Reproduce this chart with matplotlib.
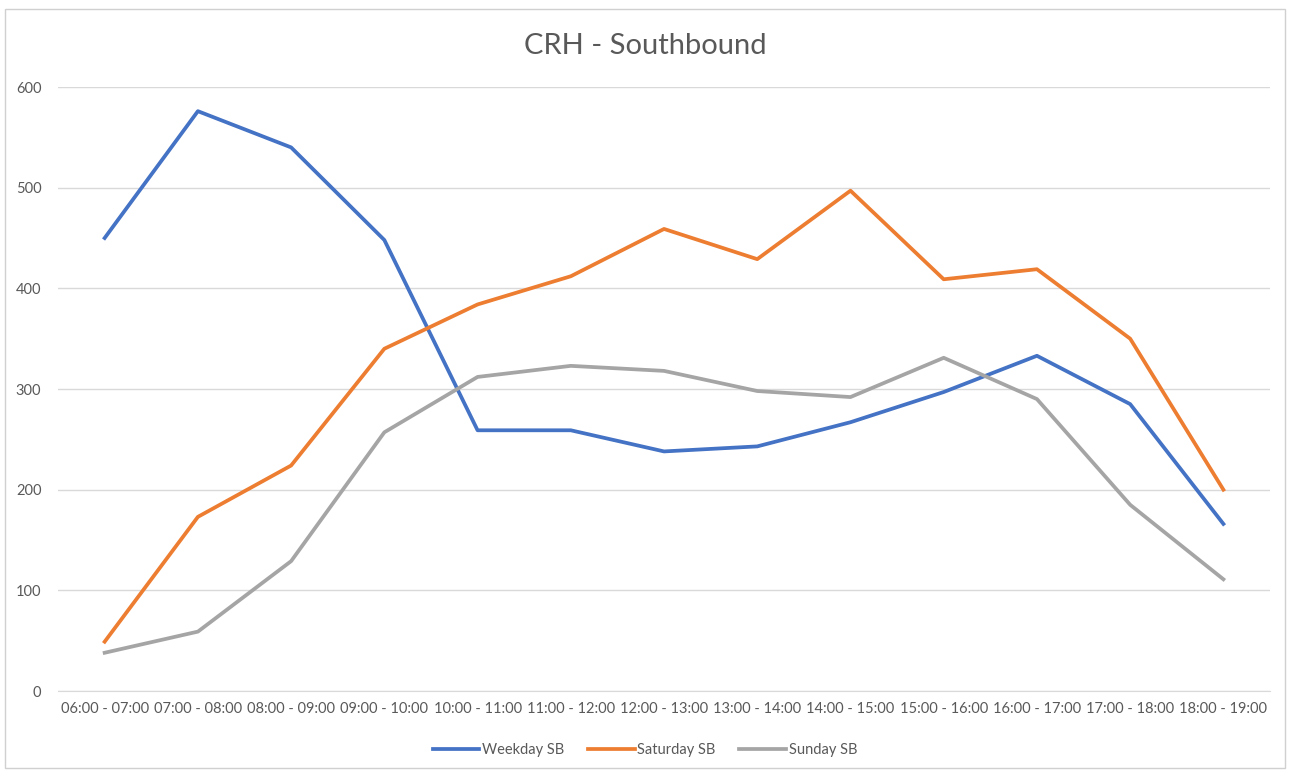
import matplotlib
matplotlib.use("Agg")
import matplotlib.pyplot as plt
import numpy as np
from matplotlib.patches import Rectangle

plt.rcParams['font.family'] = ['Lato', 'DejaVu Sans']

categories = ['06:00 - 07:00', '07:00 - 08:00', '08:00 - 09:00', '09:00 - 10:00',
              '10:00 - 11:00', '11:00 - 12:00', '12:00 - 13:00', '13:00 - 14:00',
              '14:00 - 15:00', '15:00 - 16:00', '16:00 - 17:00', '17:00 - 18:00',
              '18:00 - 19:00']
weekday_sb = [450, 576, 540, 448, 259, 259, 238, 243, 267, 297, 333, 285, 166]
saturday_sb = [49, 173, 224, 340, 384, 412, 459, 429, 497, 409, 419, 350, 200]
sunday_sb = [38, 59, 129, 257, 312, 323, 318, 298, 292, 331, 290, 185, 111]

text_col = '#595959'
grid_col = '#D9D9D9'

fig = plt.figure(figsize=(12.9, 7.72), dpi=100)
ax = fig.add_axes([0.045, 0.1049, 0.9395, 0.7824])

x = np.arange(len(categories))
ax.plot(x, weekday_sb, color='#4472C4', lw=2.7, label='Weekday SB', solid_joinstyle='round')
ax.plot(x, saturday_sb, color='#ED7D31', lw=2.7, label='Saturday SB', solid_joinstyle='round')
ax.plot(x, sunday_sb, color='#A5A5A5', lw=2.7, label='Sunday SB', solid_joinstyle='round')

ax.set_xlim(-0.5, len(categories) - 0.5)
ax.set_ylim(0, 600)
ax.set_yticks(range(0, 601, 100))
ax.set_xticks(x)
ax.set_xticklabels(categories)
ax.grid(axis='y', color=grid_col, lw=1)
ax.set_axisbelow(True)
for s in ['top', 'right', 'left']:
    ax.spines[s].set_visible(False)
ax.spines['bottom'].set_color(grid_col)
ax.tick_params(axis='both', length=0, colors=text_col, labelsize=10.5)
ax.tick_params(axis='x', pad=8)
ax.tick_params(axis='y', pad=12)

fig.text(0.5, 0.94, 'CRH - Southbound', ha='center', va='center',
         fontsize=21, color=text_col)

fig.legend(loc='center', bbox_to_anchor=(0.5, 0.029), ncol=3, frameon=False,
           fontsize=10.5, labelcolor=text_col, handlelength=3.2,
           handletextpad=0.2, columnspacing=1.6)

fig.patches.append(Rectangle((0.004, 0.005), 0.992, 0.983, transform=fig.transFigure,
                             fill=False, edgecolor='#D0D0D0', lw=1))

fig.savefig('out.png', dpi=100, facecolor='white')
